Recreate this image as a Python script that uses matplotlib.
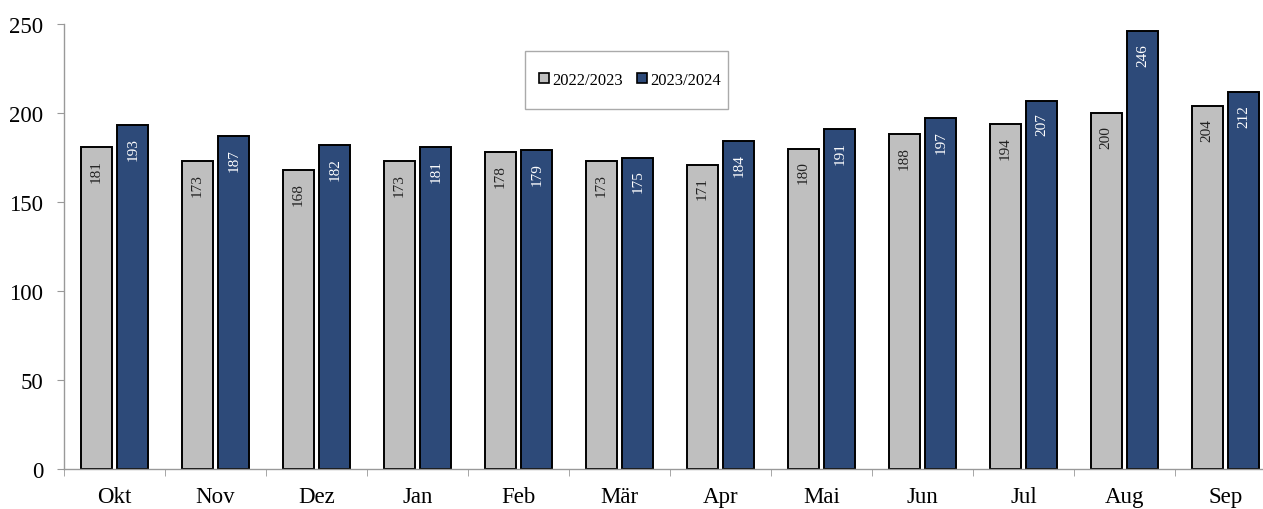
import matplotlib
matplotlib.use("Agg")
import matplotlib.pyplot as plt
import numpy as np
from matplotlib.patches import Patch, Rectangle

months = ["Okt", "Nov", "Dez", "Jan", "Feb", "Mär", "Apr", "Mai", "Jun", "Jul", "Aug", "Sep"]
season_2022_23 = [181, 173, 168, 173, 178, 173, 171, 180, 188, 194, 200, 204]
season_2023_24 = [193, 187, 182, 181, 179, 175, 184, 191, 197, 207, 246, 212]
series_labels = ["2022/2023", "2023/2024"]
y_ticks = [0, 50, 100, 150, 200, 250]

plt.rcParams["font.family"] = ["Liberation Serif", "DejaVu Serif"]

grey = "#BFBFBF"
blue = "#2D4A79"
W, H = 1263, 510

fig = plt.figure(figsize=(W / 100, H / 100), dpi=100)
ax = fig.add_axes([64 / W, 40 / H, 1212 / W, 445 / H])

x = np.arange(len(months))
w = 0.31
off = 0.18
b1 = ax.bar(x - off, season_2022_23, width=w, color=grey, edgecolor="black", linewidth=1.4)
b2 = ax.bar(x + off, season_2023_24, width=w, color=blue, edgecolor="black", linewidth=1.4)

for bars, vals, col in ((b1, season_2022_23, "#222222"), (b2, season_2023_24, "white")):
    for r, v in zip(bars, vals):
        ax.annotate(str(v), (r.get_x() + r.get_width() / 2, v), xytext=(0, -12),
                    textcoords="offset pixels", rotation=90, ha="center", va="top",
                    fontsize=11, color=col)

ax.set_xlim(-0.5, len(months) - 0.5)
ax.set_ylim(0, 250)
ax.set_yticks(y_ticks)
ax.set_yticklabels([str(t) for t in y_ticks], fontsize=16.5)
ax.set_xticks(x)
ax.set_xticklabels(months, fontsize=16.5)
ax.tick_params(axis="x", length=0, pad=12)
ax.set_xticks(np.arange(-0.5, len(months), 1), minor=True)
ax.tick_params(axis="x", which="minor", length=5, color="#999999", direction="out")
ax.tick_params(axis="y", length=5, color="#999999", direction="out", pad=10)

for s in ("top", "right"):
    ax.spines[s].set_visible(False)
for s in ("left", "bottom"):
    ax.spines[s].set_color("#999999")
    ax.spines[s].set_linewidth(1.0)

# legend box drawn separately so its padding can differ per direction
fig.patches.append(Rectangle((525 / W, 1 - 110 / H), 203 / W, 58 / H,
                             transform=fig.transFigure, facecolor="white",
                             edgecolor="#AAAAAA", linewidth=1.0, zorder=5))
handles = [Patch(facecolor=grey, edgecolor="black", linewidth=1.2),
           Patch(facecolor=blue, edgecolor="black", linewidth=1.2)]
leg = fig.legend(handles, series_labels, loc="center", bbox_to_anchor=(630 / W, 1 - 81 / H),
                 bbox_transform=fig.transFigure, ncol=2, fontsize=12, frameon=False,
                 handlelength=0.6, handleheight=0.6, handletextpad=0.2,
                 columnspacing=0.85, borderpad=0.2)
leg.set_zorder(6)

fig.savefig("out.png", dpi=100)
